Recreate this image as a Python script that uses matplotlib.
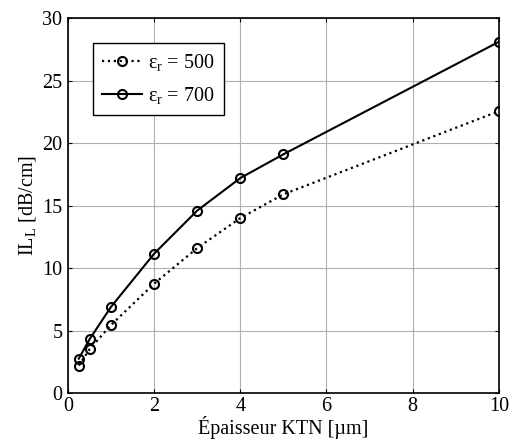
import matplotlib
matplotlib.use("Agg")
import matplotlib.pyplot as plt

thickness = [0.25, 0.5, 1, 2, 3, 4, 5, 10]
il_er500 = [2.2, 3.5, 5.45, 8.75, 11.6, 14.0, 15.9, 22.55]
il_er700 = [2.75, 4.3, 6.9, 11.15, 14.6, 17.2, 19.1, 28.1]
x_ticks = [0, 2, 4, 6, 8, 10]
y_ticks = [0, 5, 10, 15, 20, 25, 30]

plt.rcParams['font.family'] = ['Liberation Serif', 'DejaVu Serif']
plt.rcParams['mathtext.fontset'] = 'custom'
plt.rcParams['mathtext.rm'] = 'Liberation Serif'
plt.rcParams['mathtext.it'] = 'Liberation Serif:italic'

fs = 14.5

fig = plt.figure(figsize=(5.09, 4.41), dpi=100)
ax = fig.add_axes([0.1336, 0.1088, 0.8464, 0.8502])

ax.plot(thickness, il_er500, linestyle=':', color='black', linewidth=1.6,
        marker='o', markersize=6.5, markerfacecolor='none', markeredgewidth=1.5,
        label=r'$\mathrm{\varepsilon_r}$ = 500')
ax.plot(thickness, il_er700, linestyle='-', color='black', linewidth=1.5,
        marker='o', markersize=6.5, markerfacecolor='none', markeredgewidth=1.5,
        label=r'$\mathrm{\varepsilon_r}$ = 700')

ax.set_xlim(0, 10)
ax.set_ylim(0, 30)
ax.set_xticks(x_ticks)
ax.set_yticks(y_ticks)
ax.grid(True, color='#b0b0b0', linewidth=0.8, linestyle='-')
ax.set_axisbelow(True)
ax.tick_params(direction='in', top=True, right=True, labelsize=fs, length=3, width=0.8)
ax.tick_params(axis='x', pad=3)
ax.tick_params(axis='y', pad=4)
for s in ax.spines.values():
    s.set_linewidth(1.2)

ax.set_xlabel('Épaisseur KTN [µm]', fontsize=fs, labelpad=0)
ax.set_ylabel(r'IL$_\mathrm{L}$ [dB/cm]', fontsize=fs, labelpad=3)

leg = ax.legend(loc='upper left', bbox_to_anchor=(0.058, 0.934), borderaxespad=0,
                fontsize=fs, frameon=True, fancybox=False, edgecolor='black',
                framealpha=1, handlelength=2.0, handletextpad=0.3, borderpad=0.45,
                labelspacing=0.6)
leg.get_frame().set_linewidth(1.0)

fig.savefig('out.png', dpi=100)
